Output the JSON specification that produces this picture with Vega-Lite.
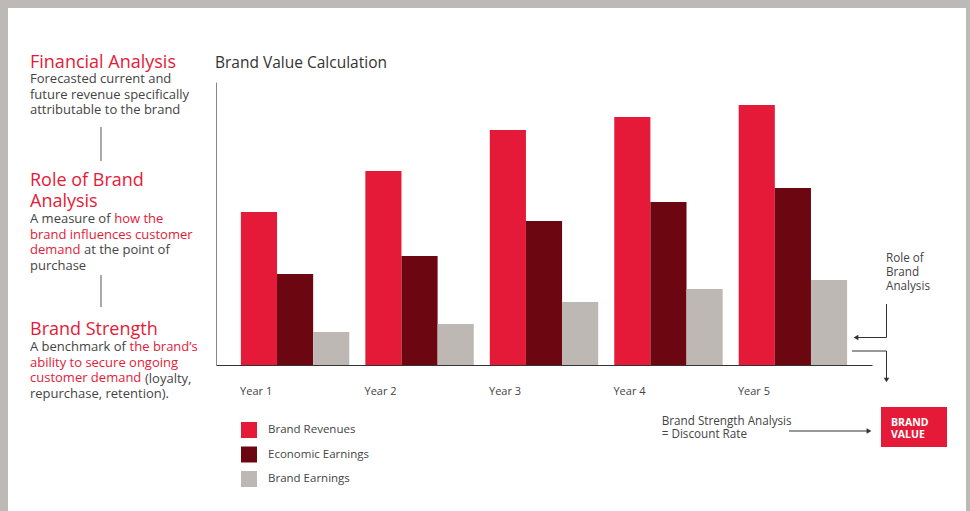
{
  "$schema": "https://vega.github.io/schema/vega-lite/v6.json",
  "width": 656,
  "height": 283,
  "autosize": {"type": "none"},
  "padding": {"left": 216, "top": 82, "right": 98, "bottom": 146},
  "background": "#ffffff",
  "config": {
    "view": {"stroke": null},
    "font": "Open Sans",
    "axis": {"labelFont": "Open Sans"},
    "legend": {"labelFont": "Open Sans"}
  },
  "datasets": {
    "brand": [
      {"Year": "Year 1", "Series": "Brand Revenues", "Value": 153},
      {"Year": "Year 1", "Series": "Economic Earnings", "Value": 91},
      {"Year": "Year 1", "Series": "Brand Earnings", "Value": 33},
      {"Year": "Year 2", "Series": "Brand Revenues", "Value": 194},
      {"Year": "Year 2", "Series": "Economic Earnings", "Value": 109},
      {"Year": "Year 2", "Series": "Brand Earnings", "Value": 41},
      {"Year": "Year 3", "Series": "Brand Revenues", "Value": 235},
      {"Year": "Year 3", "Series": "Economic Earnings", "Value": 144},
      {"Year": "Year 3", "Series": "Brand Earnings", "Value": 63},
      {"Year": "Year 4", "Series": "Brand Revenues", "Value": 248},
      {"Year": "Year 4", "Series": "Economic Earnings", "Value": 163},
      {"Year": "Year 4", "Series": "Brand Earnings", "Value": 76},
      {"Year": "Year 5", "Series": "Brand Revenues", "Value": 260},
      {"Year": "Year 5", "Series": "Economic Earnings", "Value": 177},
      {"Year": "Year 5", "Series": "Brand Earnings", "Value": 85}
    ],
    "notes": [
      {"key": "title", "text": "Brand Value Calculation"},
      {"key": "fa_head", "text": "Financial Analysis"},
      {"key": "fa_body", "text": "Forecasted current and\nfuture revenue specifically\nattributable to the brand"},
      {"key": "rb_head", "text": "Role of Brand\nAnalysis"},
      {"key": "rb_l1a", "text": "A measure of"},
      {"key": "rb_l1b", "text": "how the"},
      {"key": "rb_l23", "text": "brand influences customer\ndemand"},
      {"key": "rb_l3b", "text": "at the point of"},
      {"key": "rb_l4", "text": "purchase"},
      {"key": "bs_head", "text": "Brand Strength"},
      {"key": "bs_l1a", "text": "A benchmark of"},
      {"key": "bs_l1b", "text": "the brand’s"},
      {"key": "bs_l23", "text": "ability to secure ongoing\ncustomer demand"},
      {"key": "bs_l3b", "text": "(loyalty,"},
      {"key": "bs_l4", "text": "repurchase, retention)."},
      {"key": "role_note", "text": "Role of\nBrand\nAnalysis"},
      {"key": "strength_note", "text": "Brand Strength Analysis\n= Discount Rate"},
      {"key": "value_box", "text": "BRAND\nVALUE"},
      {"key": "link", "text": ""}
    ]
  },
  "layer": [
    {
      "data": {"name": "brand"},
      "mark": {"type": "bar"},
      "encoding": {
        "x": {"field": "Year", "type": "nominal", "sort": ["Year 1", "Year 2", "Year 3", "Year 4", "Year 5"],
          "scale": {"paddingInner": 0.129, "paddingOuter": 0.2},
          "axis": {"title": null, "labelAlign": "left", "labelOffset": -55, "ticks": false, "tickSize": 0, "labelPadding": 29, "labelBaseline": "alphabetic", "labelFontSize": 11, "labelColor": "#444444", "domainColor": "#333333", "labelAngle": 0, "grid": false}},
        "xOffset": {"field": "Series", "type": "nominal", "sort": ["Brand Revenues", "Economic Earnings", "Brand Earnings"], "scale": {"paddingInner": 0, "paddingOuter": 0}},
        "y": {"field": "Value", "type": "quantitative", "scale": {"domain": [0, 283], "nice": false}, "axis": {"title": null, "labels": false, "ticks": false, "grid": false, "domainColor": "#888888"}},
        "color": {"field": "Series", "type": "nominal", "sort": ["Brand Revenues", "Economic Earnings", "Brand Earnings"],
          "scale": {"domain": ["Brand Revenues", "Economic Earnings", "Brand Earnings"], "range": ["#e41a38", "#6c0711", "#bdb8b4"]},
          "legend": {"title": null, "orient": "none", "legendX": 25, "legendY": 340, "direction": "vertical", "symbolType": "square", "symbolSize": 256, "symbolStrokeWidth": 0, "symbolOpacity": 1, "labelFontSize": 11.5, "labelColor": "#444444", "labelOffset": 11, "rowPadding": 8.5, "padding": 0}}
      }
    },
    {
      "data": {"name": "notes"},
      "layer": [
        {"transform": [{"filter": "datum.key === 'title'"}],
         "mark": {"type": "text", "align": "left", "baseline": "alphabetic", "fontSize": 15.5, "color": "#333333"},
         "encoding": {"text": {"field": "text"},
           "x": {"datum": 215, "type": "quantitative", "scale": {"domain": [216, 872], "zero": false, "nice": false}, "axis": null},
           "y": {"datum": 68.3, "type": "quantitative", "scale": {"domain": [82, 365], "zero": false, "nice": false, "reverse": true}, "axis": null}}},
        {"transform": [{"filter": "datum.key === 'fa_head'"}],
         "mark": {"type": "text", "align": "left", "baseline": "alphabetic", "fontSize": 18, "color": "#e41a38", "lineBreak": "\n"},
         "encoding": {"text": {"field": "text"},
           "x": {"datum": 30, "type": "quantitative", "scale": {"domain": [216, 872], "zero": false, "nice": false}, "axis": null},
           "y": {"datum": 68, "type": "quantitative", "scale": {"domain": [82, 365], "zero": false, "nice": false, "reverse": true}, "axis": null}}},
        {"transform": [{"filter": "datum.key === 'fa_body'"}],
         "mark": {"type": "text", "align": "left", "baseline": "alphabetic", "fontSize": 13, "lineHeight": 15.6, "color": "#444444", "lineBreak": "\n"},
         "encoding": {"text": {"field": "text"},
           "x": {"datum": 30, "type": "quantitative", "scale": {"domain": [216, 872], "zero": false, "nice": false}, "axis": null},
           "y": {"datum": 83.3, "type": "quantitative", "scale": {"domain": [82, 365], "zero": false, "nice": false, "reverse": true}, "axis": null}}},
        {"transform": [{"filter": "datum.key === 'link'"}],
         "mark": {"type": "rule", "color": "#555555", "strokeWidth": 1},
         "encoding": {
           "x": {"datum": 101, "type": "quantitative", "scale": {"domain": [216, 872], "zero": false, "nice": false}, "axis": null},
           "y": {"datum": 127, "type": "quantitative", "scale": {"domain": [82, 365], "zero": false, "nice": false, "reverse": true}, "axis": null},
           "y2": {"datum": 161}}},
        {"transform": [{"filter": "datum.key === 'rb_head'"}],
         "mark": {"type": "text", "align": "left", "baseline": "alphabetic", "fontSize": 18, "lineHeight": 21, "color": "#e41a38", "lineBreak": "\n"},
         "encoding": {"text": {"field": "text"},
           "x": {"datum": 30, "type": "quantitative", "scale": {"domain": [216, 872], "zero": false, "nice": false}, "axis": null},
           "y": {"datum": 186.3, "type": "quantitative", "scale": {"domain": [82, 365], "zero": false, "nice": false, "reverse": true}, "axis": null}}},
        {"transform": [{"filter": "datum.key === 'rb_l1a'"}],
         "mark": {"type": "text", "align": "left", "baseline": "alphabetic", "fontSize": 13, "color": "#444444"},
         "encoding": {"text": {"field": "text"},
           "x": {"datum": 30, "type": "quantitative", "scale": {"domain": [216, 872], "zero": false, "nice": false}, "axis": null},
           "y": {"datum": 223, "type": "quantitative", "scale": {"domain": [82, 365], "zero": false, "nice": false, "reverse": true}, "axis": null}}},
        {"transform": [{"filter": "datum.key === 'rb_l1b'"}],
         "mark": {"type": "text", "align": "left", "baseline": "alphabetic", "fontSize": 13, "color": "#e41a38", "dx": 84.2},
         "encoding": {"text": {"field": "text"},
           "x": {"datum": 30, "type": "quantitative", "scale": {"domain": [216, 872], "zero": false, "nice": false}, "axis": null},
           "y": {"datum": 223, "type": "quantitative", "scale": {"domain": [82, 365], "zero": false, "nice": false, "reverse": true}, "axis": null}}},
        {"transform": [{"filter": "datum.key === 'rb_l23'"}],
         "mark": {"type": "text", "align": "left", "baseline": "alphabetic", "fontSize": 13, "lineHeight": 15.6, "color": "#e41a38", "lineBreak": "\n"},
         "encoding": {"text": {"field": "text"},
           "x": {"datum": 30, "type": "quantitative", "scale": {"domain": [216, 872], "zero": false, "nice": false}, "axis": null},
           "y": {"datum": 238.6, "type": "quantitative", "scale": {"domain": [82, 365], "zero": false, "nice": false, "reverse": true}, "axis": null}}},
        {"transform": [{"filter": "datum.key === 'rb_l3b'"}],
         "mark": {"type": "text", "align": "left", "baseline": "alphabetic", "fontSize": 13, "color": "#444444", "dx": 54},
         "encoding": {"text": {"field": "text"},
           "x": {"datum": 30, "type": "quantitative", "scale": {"domain": [216, 872], "zero": false, "nice": false}, "axis": null},
           "y": {"datum": 254.2, "type": "quantitative", "scale": {"domain": [82, 365], "zero": false, "nice": false, "reverse": true}, "axis": null}}},
        {"transform": [{"filter": "datum.key === 'rb_l4'"}],
         "mark": {"type": "text", "align": "left", "baseline": "alphabetic", "fontSize": 13, "color": "#444444"},
         "encoding": {"text": {"field": "text"},
           "x": {"datum": 30, "type": "quantitative", "scale": {"domain": [216, 872], "zero": false, "nice": false}, "axis": null},
           "y": {"datum": 269.8, "type": "quantitative", "scale": {"domain": [82, 365], "zero": false, "nice": false, "reverse": true}, "axis": null}}},
        {"transform": [{"filter": "datum.key === 'link'"}],
         "mark": {"type": "rule", "color": "#555555", "strokeWidth": 1},
         "encoding": {
           "x": {"datum": 101, "type": "quantitative", "scale": {"domain": [216, 872], "zero": false, "nice": false}, "axis": null},
           "y": {"datum": 275, "type": "quantitative", "scale": {"domain": [82, 365], "zero": false, "nice": false, "reverse": true}, "axis": null},
           "y2": {"datum": 307}}},
        {"transform": [{"filter": "datum.key === 'bs_head'"}],
         "mark": {"type": "text", "align": "left", "baseline": "alphabetic", "fontSize": 18, "color": "#e41a38"},
         "encoding": {"text": {"field": "text"},
           "x": {"datum": 30, "type": "quantitative", "scale": {"domain": [216, 872], "zero": false, "nice": false}, "axis": null},
           "y": {"datum": 335.3, "type": "quantitative", "scale": {"domain": [82, 365], "zero": false, "nice": false, "reverse": true}, "axis": null}}},
        {"transform": [{"filter": "datum.key === 'bs_l1a'"}],
         "mark": {"type": "text", "align": "left", "baseline": "alphabetic", "fontSize": 13, "color": "#444444"},
         "encoding": {"text": {"field": "text"},
           "x": {"datum": 30, "type": "quantitative", "scale": {"domain": [216, 872], "zero": false, "nice": false}, "axis": null},
           "y": {"datum": 351.3, "type": "quantitative", "scale": {"domain": [82, 365], "zero": false, "nice": false, "reverse": true}, "axis": null}}},
        {"transform": [{"filter": "datum.key === 'bs_l1b'"}],
         "mark": {"type": "text", "align": "left", "baseline": "alphabetic", "fontSize": 13, "color": "#e41a38", "dx": 99.6},
         "encoding": {"text": {"field": "text"},
           "x": {"datum": 30, "type": "quantitative", "scale": {"domain": [216, 872], "zero": false, "nice": false}, "axis": null},
           "y": {"datum": 351.3, "type": "quantitative", "scale": {"domain": [82, 365], "zero": false, "nice": false, "reverse": true}, "axis": null}}},
        {"transform": [{"filter": "datum.key === 'bs_l23'"}],
         "mark": {"type": "text", "align": "left", "baseline": "alphabetic", "fontSize": 13, "lineHeight": 15.6, "color": "#e41a38", "lineBreak": "\n"},
         "encoding": {"text": {"field": "text"},
           "x": {"datum": 30, "type": "quantitative", "scale": {"domain": [216, 872], "zero": false, "nice": false}, "axis": null},
           "y": {"datum": 366.9, "type": "quantitative", "scale": {"domain": [82, 365], "zero": false, "nice": false, "reverse": true}, "axis": null}}},
        {"transform": [{"filter": "datum.key === 'bs_l3b'"}],
         "mark": {"type": "text", "align": "left", "baseline": "alphabetic", "fontSize": 13, "color": "#444444", "dx": 115},
         "encoding": {"text": {"field": "text"},
           "x": {"datum": 30, "type": "quantitative", "scale": {"domain": [216, 872], "zero": false, "nice": false}, "axis": null},
           "y": {"datum": 382.5, "type": "quantitative", "scale": {"domain": [82, 365], "zero": false, "nice": false, "reverse": true}, "axis": null}}},
        {"transform": [{"filter": "datum.key === 'bs_l4'"}],
         "mark": {"type": "text", "align": "left", "baseline": "alphabetic", "fontSize": 13, "color": "#444444"},
         "encoding": {"text": {"field": "text"},
           "x": {"datum": 30, "type": "quantitative", "scale": {"domain": [216, 872], "zero": false, "nice": false}, "axis": null},
           "y": {"datum": 398.1, "type": "quantitative", "scale": {"domain": [82, 365], "zero": false, "nice": false, "reverse": true}, "axis": null}}},
        {"transform": [{"filter": "datum.key === 'role_note'"}],
         "mark": {"type": "text", "align": "left", "baseline": "alphabetic", "fontSize": 11.7, "lineHeight": 14.2, "color": "#444444", "lineBreak": "\n"},
         "encoding": {"text": {"field": "text"},
           "x": {"datum": 886, "type": "quantitative", "scale": {"domain": [216, 872], "zero": false, "nice": false}, "axis": null},
           "y": {"datum": 261.5, "type": "quantitative", "scale": {"domain": [82, 365], "zero": false, "nice": false, "reverse": true}, "axis": null}}},
        {"transform": [{"filter": "datum.key === 'link'"}],
         "mark": {"type": "rule", "color": "#333333", "strokeWidth": 1},
         "encoding": {
           "x": {"datum": 886.5, "type": "quantitative", "scale": {"domain": [216, 872], "zero": false, "nice": false}, "axis": null},
           "y": {"datum": 304, "type": "quantitative", "scale": {"domain": [82, 365], "zero": false, "nice": false, "reverse": true}, "axis": null},
           "y2": {"datum": 337.5}}},
        {"transform": [{"filter": "datum.key === 'link'"}],
         "mark": {"type": "rule", "color": "#333333", "strokeWidth": 1},
         "encoding": {
           "x": {"datum": 857, "type": "quantitative", "scale": {"domain": [216, 872], "zero": false, "nice": false}, "axis": null},
           "x2": {"datum": 886.5},
           "y": {"datum": 337.5, "type": "quantitative", "scale": {"domain": [82, 365], "zero": false, "nice": false, "reverse": true}, "axis": null}}},
        {"transform": [{"filter": "datum.key === 'link'"}],
         "mark": {"type": "point", "shape": "triangle-left", "filled": true, "size": 30, "color": "#333333", "opacity": 1},
         "encoding": {
           "x": {"datum": 856, "type": "quantitative", "scale": {"domain": [216, 872], "zero": false, "nice": false}, "axis": null},
           "y": {"datum": 337.5, "type": "quantitative", "scale": {"domain": [82, 365], "zero": false, "nice": false, "reverse": true}, "axis": null}}},
        {"transform": [{"filter": "datum.key === 'link'"}],
         "mark": {"type": "rule", "color": "#333333", "strokeWidth": 1},
         "encoding": {
           "x": {"datum": 852, "type": "quantitative", "scale": {"domain": [216, 872], "zero": false, "nice": false}, "axis": null},
           "x2": {"datum": 886.5},
           "y": {"datum": 351, "type": "quantitative", "scale": {"domain": [82, 365], "zero": false, "nice": false, "reverse": true}, "axis": null}}},
        {"transform": [{"filter": "datum.key === 'link'"}],
         "mark": {"type": "rule", "color": "#333333", "strokeWidth": 1},
         "encoding": {
           "x": {"datum": 886.5, "type": "quantitative", "scale": {"domain": [216, 872], "zero": false, "nice": false}, "axis": null},
           "y": {"datum": 351, "type": "quantitative", "scale": {"domain": [82, 365], "zero": false, "nice": false, "reverse": true}, "axis": null},
           "y2": {"datum": 378}}},
        {"transform": [{"filter": "datum.key === 'link'"}],
         "mark": {"type": "point", "shape": "triangle-down", "filled": true, "size": 30, "color": "#333333", "opacity": 1},
         "encoding": {
           "x": {"datum": 886.5, "type": "quantitative", "scale": {"domain": [216, 872], "zero": false, "nice": false}, "axis": null},
           "y": {"datum": 380, "type": "quantitative", "scale": {"domain": [82, 365], "zero": false, "nice": false, "reverse": true}, "axis": null}}},
        {"transform": [{"filter": "datum.key === 'strength_note'"}],
         "mark": {"type": "text", "align": "left", "baseline": "alphabetic", "fontSize": 11.7, "lineHeight": 13, "color": "#444444", "lineBreak": "\n"},
         "encoding": {"text": {"field": "text"},
           "x": {"datum": 661.7, "type": "quantitative", "scale": {"domain": [216, 872], "zero": false, "nice": false}, "axis": null},
           "y": {"datum": 425.2, "type": "quantitative", "scale": {"domain": [82, 365], "zero": false, "nice": false, "reverse": true}, "axis": null}}},
        {"transform": [{"filter": "datum.key === 'link'"}],
         "mark": {"type": "rule", "color": "#333333", "strokeWidth": 1},
         "encoding": {
           "x": {"datum": 789, "type": "quantitative", "scale": {"domain": [216, 872], "zero": false, "nice": false}, "axis": null},
           "x2": {"datum": 867},
           "y": {"datum": 431, "type": "quantitative", "scale": {"domain": [82, 365], "zero": false, "nice": false, "reverse": true}, "axis": null}}},
        {"transform": [{"filter": "datum.key === 'link'"}],
         "mark": {"type": "point", "shape": "triangle-right", "filled": true, "size": 30, "color": "#333333", "opacity": 1},
         "encoding": {
           "x": {"datum": 869, "type": "quantitative", "scale": {"domain": [216, 872], "zero": false, "nice": false}, "axis": null},
           "y": {"datum": 431, "type": "quantitative", "scale": {"domain": [82, 365], "zero": false, "nice": false, "reverse": true}, "axis": null}}},
        {"transform": [{"filter": "datum.key === 'value_box'"}],
         "mark": {"type": "rect", "color": "#e41a38"},
         "encoding": {
           "x": {"datum": 881, "type": "quantitative", "scale": {"domain": [216, 872], "zero": false, "nice": false}, "axis": null},
           "x2": {"datum": 947},
           "y": {"datum": 407, "type": "quantitative", "scale": {"domain": [82, 365], "zero": false, "nice": false, "reverse": true}, "axis": null},
           "y2": {"datum": 447}}},
        {"transform": [{"filter": "datum.key === 'value_box'"}],
         "mark": {"type": "text", "align": "left", "baseline": "alphabetic", "fontSize": 10.5, "fontWeight": "bold", "lineHeight": 12.5, "color": "#ffffff", "lineBreak": "\n"},
         "encoding": {"text": {"field": "text"},
           "x": {"datum": 891, "type": "quantitative", "scale": {"domain": [216, 872], "zero": false, "nice": false}, "axis": null},
           "y": {"datum": 425.5, "type": "quantitative", "scale": {"domain": [82, 365], "zero": false, "nice": false, "reverse": true}, "axis": null}}},
        {"transform": [{"filter": "datum.key === 'link'"}],
         "mark": {"type": "rect", "color": "#bdb9b6"},
         "encoding": {
           "x": {"datum": 0, "type": "quantitative", "scale": {"domain": [216, 872], "zero": false, "nice": false}, "axis": null},
           "x2": {"datum": 970},
           "y": {"datum": 0, "type": "quantitative", "scale": {"domain": [82, 365], "zero": false, "nice": false, "reverse": true}, "axis": null},
           "y2": {"datum": 8}}},
        {"transform": [{"filter": "datum.key === 'link'"}],
         "mark": {"type": "rect", "color": "#bdb9b6"},
         "encoding": {
           "x": {"datum": 0, "type": "quantitative", "scale": {"domain": [216, 872], "zero": false, "nice": false}, "axis": null},
           "x2": {"datum": 8},
           "y": {"datum": 0, "type": "quantitative", "scale": {"domain": [82, 365], "zero": false, "nice": false, "reverse": true}, "axis": null},
           "y2": {"datum": 511}}},
        {"transform": [{"filter": "datum.key === 'link'"}],
         "mark": {"type": "rect", "color": "#bdb9b6"},
         "encoding": {
           "x": {"datum": 966, "type": "quantitative", "scale": {"domain": [216, 872], "zero": false, "nice": false}, "axis": null},
           "x2": {"datum": 970},
           "y": {"datum": 0, "type": "quantitative", "scale": {"domain": [82, 365], "zero": false, "nice": false, "reverse": true}, "axis": null},
           "y2": {"datum": 511}}}
      ]
    }
  ],
  "resolve": {"scale": {"x": "independent", "y": "independent"}}
}
